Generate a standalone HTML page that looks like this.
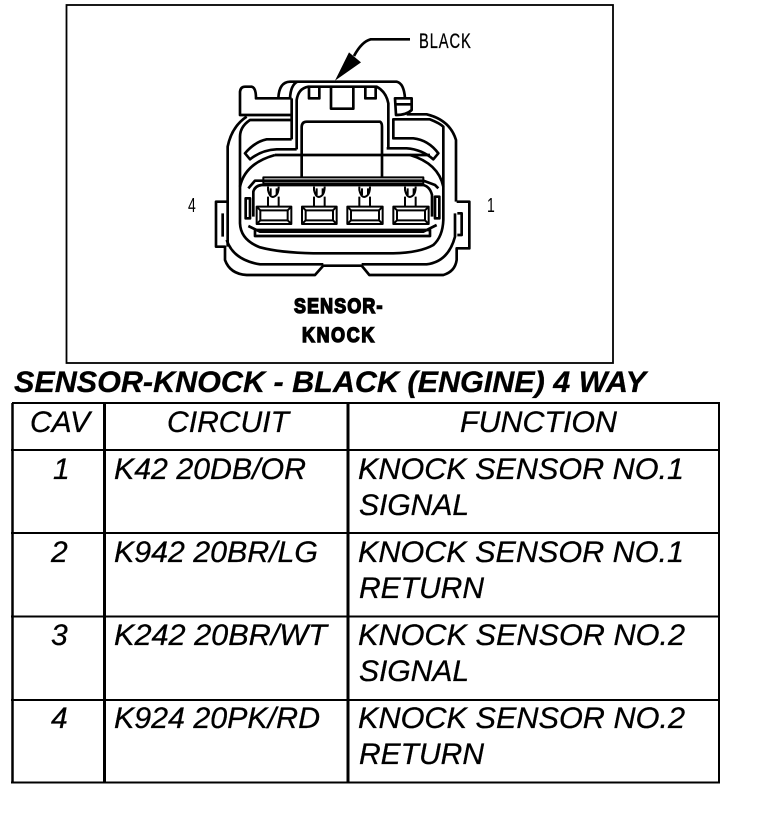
<!DOCTYPE html>
<html><head><meta charset="utf-8"><style>
html,body{margin:0;padding:0;background:#fff}
svg{display:block}
.t{font:italic 30px "Liberation Sans",sans-serif;fill:#000;stroke:#000;stroke-width:.3px}
</style></head><body>
<svg width="768" height="828" viewBox="0 0 768 828" xmlns="http://www.w3.org/2000/svg">
<rect width="768" height="828" fill="#fff"/>
<rect x="66.500" y="5" width="546.500" height="358" fill="none" stroke="#000" stroke-width="1.800"/>
<g transform="translate(180,20) scale(0.33333)" fill="none" stroke="#000" stroke-width="8" stroke-linejoin="round">
<path d="M690,58H572Q545,65 522,108"/>
<polygon points="465,182 507,97 543,127" fill="#000" stroke="none"/>
<path d="M295,235Q297,186 330,185H650Q672,190 675,235"/>
<path d="M330,235Q332,195 352,185"/>
<path d="M180,285V215Q182,200 195,200H215Q228,203 228,235H335M180,235V285H335"/>
<path d="M645,235H695V270Q680,285 648,285ZM645,253H695"/>
<path d="M350,388V240Q355,205 385,200H590Q618,215 625,250V385"/>
<path d="M335,235V358"/>
<path d="M387,203V235H418V203M453,203V266H520V203M556,203V235H587V203"/>
<path d="M365,472V320Q366,305 380,305H600Q606,308 606,320V472"/>
<path d="M285,405H750" stroke-width="8"/>
<path d="M200,290Q155,320 143,380V680"/>
<path d="M680,283H740Q810,300 828,360V545"/>
<path d="M335,300H210Q180,320 180,350V610Q182,660 240,682Q300,698 400,700H640Q720,698 760,675Q788,650 790,600V320Q780,310 750,298H640V355H700Q745,360 775,400L760,418Q725,388 680,385H620"/>
<path d="M335,358H260Q225,365 195,400L210,418Q245,390 290,388H350"/>
<path d="M180,500Q195,430 285,405M690,405Q775,430 790,500"/>
<path d="M140,545H108V680H135V720Q150,762 200,765H405L430,737H545L568,765H790Q825,755 830,720V685H868V545H830"/>
<path d="M140,660Q160,720 240,733H430M545,733H740Q805,725 825,650V580"/>
<path d="M128,580V650M832,580H845V645H832"/>
<path d="M197,535H210V595H197ZM765,530H778V595H765Z"/>
<path d="M205,505L225,482H730L765,495L775,505"/>
<path d="M250,472H730V490H250Z" stroke-width="6"/>
<path d="M220,590V515Q225,497 245,495H730Q750,500 756,525V590"/>
<path d="M205,618L240,635H730L770,615M225,630H750V648H225Z"/>
<g stroke-width="6">
<path d="M264,500V510Q270,535 282,530Q296,525 296,500M272,505V525M290,505V525"/>
<path d="M402,500V510Q408,535 420,530Q434,525 434,500M410,505V525M428,505V525"/>
<path d="M538,500V510Q544,535 556,530Q570,525 570,500M546,505V525M564,505V525"/>
<path d="M675,500V510Q681,535 693,530Q707,525 707,500M683,505V525M701,505V525"/>
<path d="M264,530V560M296,530V560M402,530V560M434,530V560M538,530V560M570,530V560M675,530V560M707,530V560"/>
<rect x="230" y="560" width="104" height="52"/>
<rect x="241" y="571" width="82" height="30"/>
<path d="M230,560l11,11M334,560l-11,11M230,612l11,-11M334,612l-11,-11"/>
<rect x="366" y="560" width="104" height="52"/>
<rect x="377" y="571" width="82" height="30"/>
<path d="M366,560l11,11M470,560l-11,11M366,612l11,-11M470,612l-11,-11"/>
<rect x="502" y="560" width="106" height="52"/>
<rect x="513" y="571" width="84" height="30"/>
<path d="M502,560l11,11M608,560l-11,11M502,612l11,-11M608,612l-11,-11"/>
<rect x="640" y="560" width="106" height="52"/>
<rect x="651" y="571" width="84" height="30"/>
<path d="M640,560l11,11M746,560l-11,11M640,612l11,-11M746,612l-11,-11"/>
</g>
</g>
<text transform="translate(419,48) scale(.7,1)" font-family="Liberation Sans,sans-serif" font-size="21" textLength="74" lengthAdjust="spacing" stroke="#000" stroke-width=".3">BLACK</text>
<text transform="translate(188,212) scale(.7,1)" font-family="Liberation Sans,sans-serif" font-size="20">4</text>
<text transform="translate(487,212) scale(.7,1)" font-family="Liberation Sans,sans-serif" font-size="20">1</text>
<text transform="translate(294,313) scale(.85,1)" font-family="Liberation Sans,sans-serif" font-weight="bold" font-size="21" stroke="#000" stroke-width="1.500" textLength="104" lengthAdjust="spacing">SENSOR-</text>
<text transform="translate(302,342) scale(.85,1)" font-family="Liberation Sans,sans-serif" font-weight="bold" font-size="21" stroke="#000" stroke-width="1.500" textLength="85" lengthAdjust="spacing">KNOCK</text>
<text x="14" y="392" font-family="Liberation Sans,sans-serif" font-style="italic" font-weight="bold" font-size="30" stroke="#000" stroke-width=".3" textLength="632" lengthAdjust="spacingAndGlyphs">SENSOR-KNOCK - BLACK (ENGINE) 4 WAY</text>
<g stroke="#000" fill="none">
<path stroke-width="2" d="M12,403H720M719,403V783M11,450H720M11,533H720M11,616.500H720M11,700H720M11,782.500H720"/>
<path stroke-width="2.500" d="M12.500,403V783"/>
<path stroke-width="3" d="M104.500,403V783M348,403V783"/>
</g>
<text class="t" x="30" y="432" textLength="60" lengthAdjust="spacingAndGlyphs">CAV</text>
<text class="t" x="167" y="432" textLength="122" lengthAdjust="spacingAndGlyphs">CIRCUIT</text>
<text class="t" x="460" y="432" textLength="157" lengthAdjust="spacingAndGlyphs">FUNCTION</text>
<text class="t" x="53" y="479">1</text>
<text class="t" x="114" y="479" textLength="192" lengthAdjust="spacingAndGlyphs">K42 20DB/OR</text>
<text class="t" x="358" y="479" textLength="326" lengthAdjust="spacingAndGlyphs">KNOCK SENSOR NO.1</text>
<text class="t" x="359" y="515" textLength="110" lengthAdjust="spacingAndGlyphs">SIGNAL</text>
<text class="t" x="51" y="562">2</text>
<text class="t" x="114" y="562" textLength="204" lengthAdjust="spacingAndGlyphs">K942 20BR/LG</text>
<text class="t" x="358" y="562" textLength="326" lengthAdjust="spacingAndGlyphs">KNOCK SENSOR NO.1</text>
<text class="t" x="359" y="598" textLength="125" lengthAdjust="spacingAndGlyphs">RETURN</text>
<text class="t" x="51" y="645">3</text>
<text class="t" x="114" y="645" textLength="213" lengthAdjust="spacingAndGlyphs">K242 20BR/WT</text>
<text class="t" x="358" y="645" textLength="327" lengthAdjust="spacingAndGlyphs">KNOCK SENSOR NO.2</text>
<text class="t" x="359" y="681" textLength="110" lengthAdjust="spacingAndGlyphs">SIGNAL</text>
<text class="t" x="51" y="728">4</text>
<text class="t" x="114" y="728" textLength="206" lengthAdjust="spacingAndGlyphs">K924 20PK/RD</text>
<text class="t" x="358" y="728" textLength="327" lengthAdjust="spacingAndGlyphs">KNOCK SENSOR NO.2</text>
<text class="t" x="359" y="764" textLength="125" lengthAdjust="spacingAndGlyphs">RETURN</text>
</svg>
</body></html>
